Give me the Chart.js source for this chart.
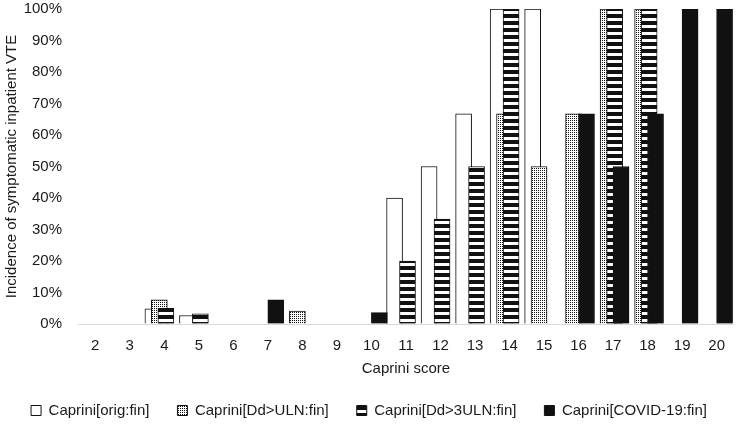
<!DOCTYPE html>
<html>
<head>
<meta charset="utf-8">
<script src="https://cdn.jsdelivr.net/npm/chart.js@4.4.1/dist/chart.umd.min.js"></script>
<style>
  html, body { margin: 0; padding: 0; background: #fff; }
</style>
</head>
<body>
<canvas id="vteChart" width="738" height="430"></canvas>
<script>
// Caprini score categories
const scores = [2, 3, 4, 5, 6, 7, 8, 9, 10, 11, 12, 13, 14, 15, 16, 17, 18, 19, 20]

// Incidence of symptomatic inpatient VTE (%), one value per score
const origFin = [0, 0, 4.8, 2.7, 0, 0, 0, 0, 0, 40, 50, 66.7, 100, 100, 0, 0, 0, 0, 0]
const ddUlnFin = [0, 0, 7.7, 0, 0, 0, 4.1, 0, 0, 0, 0, 0, 66.7, 50, 66.7, 100, 100, 0, 0]
const dd3UlnFin = [0, 0, 5, 3.2, 0, 0, 0, 0, 0, 20, 33.3, 50, 100, 0, 0, 100, 100, 0, 0]
const covidFin = [0, 0, 0, 0, 0, 7.7, 0, 0, 3.6, 0, 0, 0, 0, 0, 66.7, 50, 66.7, 100, 100]

const seriesLabels = ['Caprini[orig:fin]', 'Caprini[Dd>ULN:fin]', 'Caprini[Dd>3ULN:fin]', 'Caprini[COVID-19:fin]']
const yTicks = [0, 10, 20, 30, 40, 50, 60, 70, 80, 90, 100]

// overlapping bars: each series sits a little further right inside its category
const seriesShift = [-0.33, -0.145, 0.045, 0.23]

const FONT = 'Liberation Sans, Arial, sans-serif'
const TEXT = '#1a1a1a'

// Fill patterns

const makePattern = (w, h, draw) => {
  const c = document.createElement('canvas')
  c.width = w
  c.height = h
  const pctx = c.getContext('2d')
  pctx.fillStyle = '#fff'
  pctx.fillRect(0, 0, w, h)
  pctx.fillStyle = '#111'
  draw(pctx)
  return document.getElementById('vteChart').getContext('2d').createPattern(c, 'repeat')
}

const dottedFill = makePattern(2, 2, (p) => {
  p.fillRect(0, 0, 1, 1)
})

const stripeFill = makePattern(4, 7, (p) => {
  p.fillRect(0, 0, 4, 4)
})

const fills = ['#ffffff', dottedFill, stripeFill, '#111111']
const seriesValues = [origFin, ddUlnFin, dd3UlnFin, covidFin]

const datasets = seriesValues.map((values, idx) => ({
  label: seriesLabels[idx],
  data: values.map((v, i) => ({ x: scores[i] + seriesShift[idx], y: v })),
  backgroundColor: fills[idx],
  borderColor: '#111',
  borderWidth: 1,
  barThickness: 16,
  grouped: false,
  // later series are painted on top of earlier ones
  order: seriesValues.length - idx,
}))

new Chart(document.getElementById('vteChart'), {
  type: 'bar',
  data: { datasets },
  options: {
    responsive: false,
    animation: false,
    layout: { padding: { top: 9, right: 0, bottom: 2, left: 0 } },
    plugins: {
      tooltip: { enabled: false },
      legend: {
        position: 'bottom',
        labels: {
          font: { family: FONT, size: 15 },
          color: TEXT,
          boxWidth: 10,
          boxHeight: 10,
          padding: 28,
          sort: (a, b) => a.datasetIndex - b.datasetIndex,
        },
      },
    },
    scales: {
      x: {
        type: 'linear',
        min: 1.5,
        max: 20.5,
        offset: false,
        grid: { display: false, drawTicks: false },
        border: { display: true, color: '#d9d9d9', width: 1 },
        afterBuildTicks: (axis) => {
          axis.ticks = scores.map((v) => ({ value: v }))
        },
        ticks: {
          font: { family: FONT, size: 15 },
          color: TEXT,
          padding: 13,
          maxRotation: 0,
          autoSkip: false,
        },
        title: {
          display: true,
          text: 'Caprini score',
          font: { family: FONT, size: 15 },
          color: TEXT,
          padding: { top: 4, bottom: -3 },
        },
        afterFit: (axis) => {
          axis.height = 51
        },
      },
      y: {
        min: 0,
        max: 100,
        // invisible tick marks give the gap between labels and plot
        grid: { display: true, drawOnChartArea: false, drawTicks: true, tickLength: 16, color: 'rgba(0,0,0,0)' },
        border: { display: false },
        afterBuildTicks: (axis) => {
          axis.ticks = yTicks.map((v) => ({ value: v }))
        },
        ticks: {
          font: { family: FONT, size: 15 },
          color: TEXT,
          padding: 0,
          callback: (v) => v + '%',
        },
        title: {
          display: true,
          text: 'Incidence of symptomatic inpatient VTE',
          font: { family: FONT, size: 15 },
          color: TEXT,
          padding: { top: 3, bottom: 0 },
        },
        afterFit: (axis) => {
          axis.width = 78
        },
      },
    },
  },
})
</script>
</body>
</html>
